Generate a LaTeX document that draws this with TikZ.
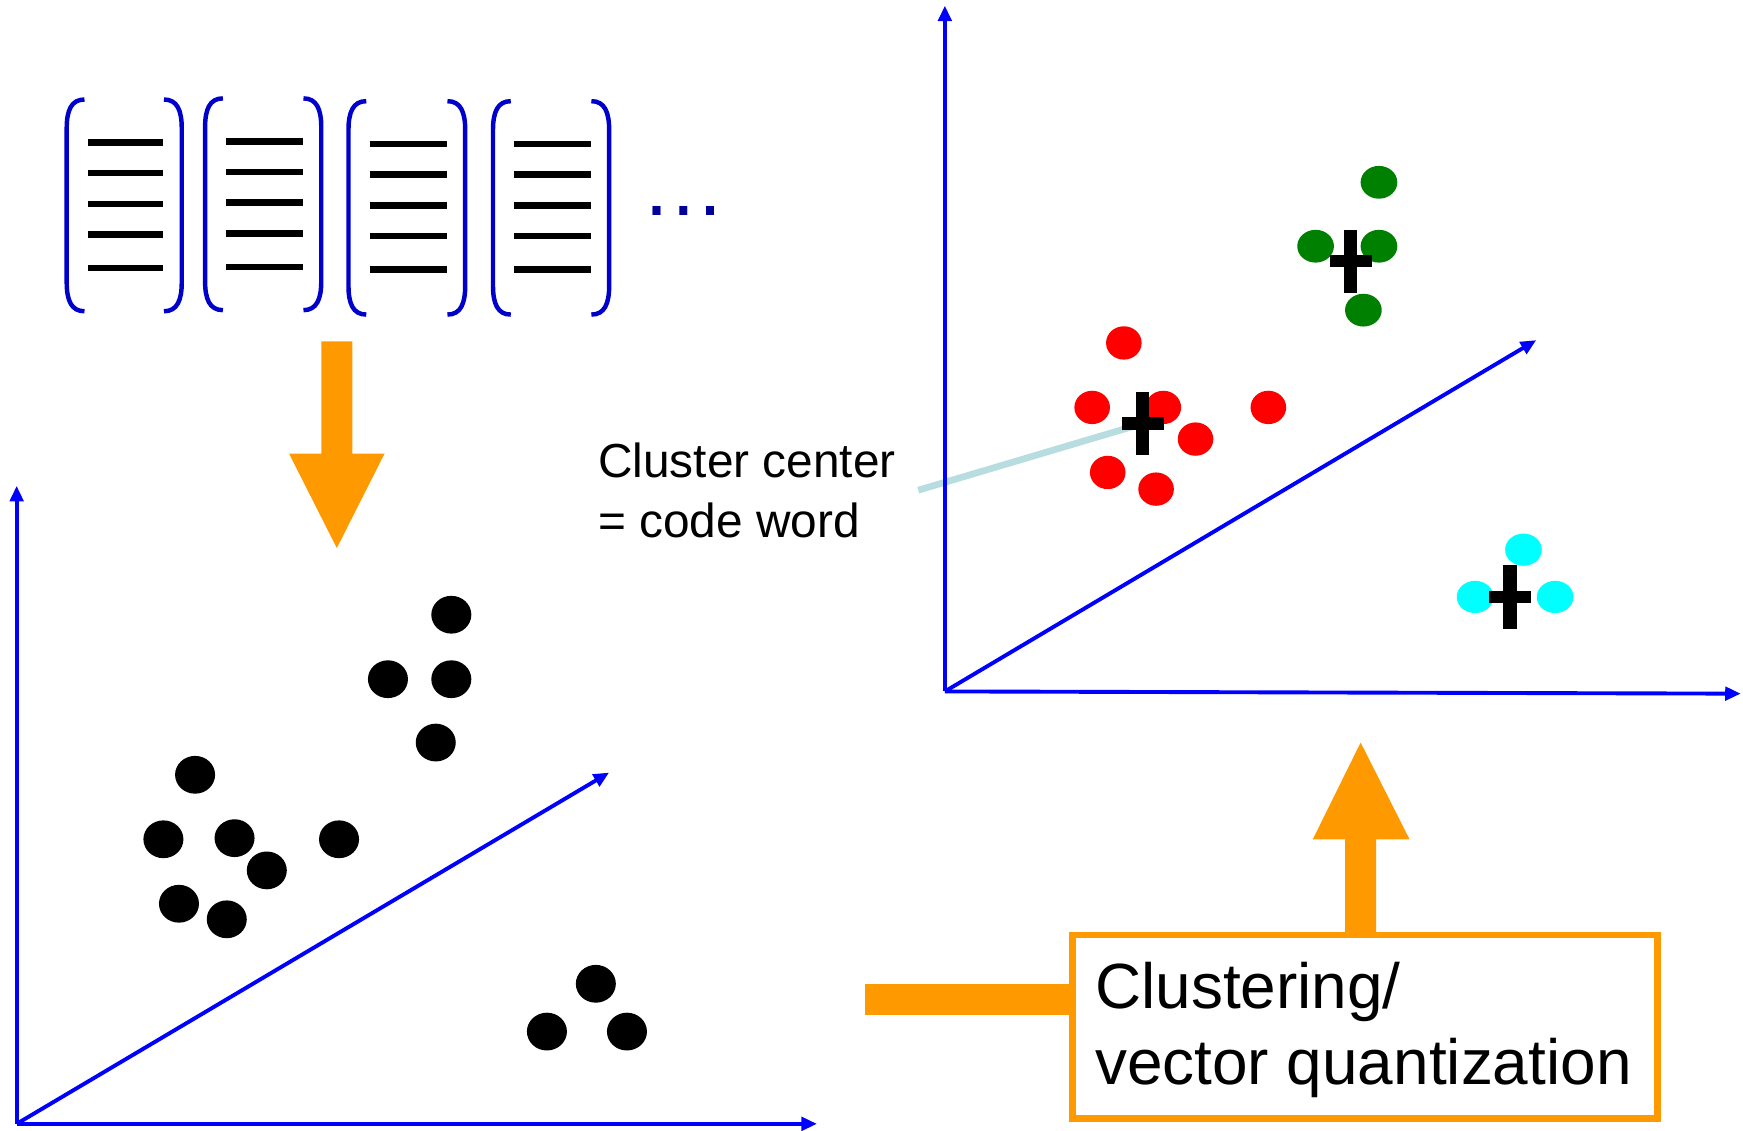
\documentclass[tikz,border=0pt]{standalone}
\usepackage{fontspec}
\setmainfont{Liberation Sans}
\usetikzlibrary{arrows.meta,shapes.geometric}
\definecolor{axblue}{RGB}{0,0,255}
\definecolor{brkblue}{RGB}{0,0,204}
\definecolor{navyc}{RGB}{0,0,153}
\definecolor{orng}{RGB}{255,153,0}
\definecolor{ccl}{RGB}{183,221,224}
\definecolor{dgreen}{RGB}{0,128,0}
\definecolor{cyanc}{RGB}{0,255,255}
\definecolor{redc}{RGB}{255,0,0}
\newcommand\docpage[4]{%
  \draw[brk] ({#1+16},#3) .. controls ({#1+4},#3) and (#1,{#3+10}) .. (#1,{#3+26}) -- (#1,{#4-26}) .. controls (#1,{#4-10}) and ({#1+4},#4) .. ({#1+16},#4);
  \draw[brk] ({#2-16},#3) .. controls ({#2-4},#3) and (#2,{#3+10}) .. (#2,{#3+26}) -- (#2,{#4-26}) .. controls (#2,{#4-10}) and ({#2-4},#4) .. ({#2-16},#4);
  \foreach \dy in {38.5,66.2,93.9,121.4,151.6}
    \draw[docline] ({#1+19},{#3+\dy}) -- ({#2-16.5},{#3+\dy});
}
\begin{document}
\begin{tikzpicture}[x=1pt,y=-1pt,
  axis/.style={draw=axblue,line width=3.5pt,-{Triangle[length=14pt,width=12pt]}},
  brk/.style={draw=brkblue,line width=4pt},
  docline/.style={draw=black,line width=6pt},
  bdot/.style={ellipse,fill=black,inner sep=0pt,minimum width=36pt,minimum height=34pt},
  rdot/.style={ellipse,fill=redc,inner sep=0pt,minimum width=32pt,minimum height=30pt},
  gdot/.style={ellipse,fill=dgreen,inner sep=0pt,minimum width=33pt,minimum height=29.5pt},
  cdot/.style={ellipse,fill=cyanc,inner sep=0pt,minimum width=33pt,minimum height=29pt},
  orngfill/.style={fill=orng},
  cctext/.style={inner sep=0pt,anchor=base west,font=\fontsize{43pt}{53pt}\selectfont},
  qtext/.style={inner sep=0pt,anchor=base west,font=\fontsize{57.5pt}{69pt}\selectfont},
  qboxst/.style={draw=orng,line width=6pt,fill=white,minimum width=526pt,minimum height=165pt,inner sep=0pt},
  ccline/.style={draw=ccl,line width=6pt},
  codecross/.pic={\fill[black] (-6,-28.5) rectangle (6,28.5); \fill[black] (-19,-5.5) rectangle (19,5.5);}
]
\useasboundingbox (0,0) rectangle (1568,1017);
\fill[white] (0,0) rectangle (1568,1017);

% documents
\docpage{60}{163.5}{89.5}{280}
\docpage{184.5}{289}{88.5}{279}
\docpage{313.5}{418.5}{91}{283}
\docpage{443.5}{548}{91}{283}
\node[inner sep=0pt,anchor=base west,text=navyc,font=\fontsize{76pt}{80pt}\selectfont] (ell) at (577,194) {…};

% down arrow
\fill[orngfill] (289,307) -- (317,307) -- (317,408) -- (346,408) -- (303,493) -- (260,408) -- (289,408) -- cycle;

% left axes
\coordinate (lo) at (15,1011);
\coordinate (ly) at (15,437);
\coordinate (lx) at (735,1011);
\coordinate (lz) at (548,695);
\draw[axis] (lo) -- (ly);
\draw[axis] (lo) -- (lx);
\draw[axis] (lo) -- (lz);

% black dots
\node[bdot] (b1) at (406,553) {};
\node[bdot] (b2) at (349,611) {};
\node[bdot] (b3) at (406,611) {};
\node[bdot] (b4) at (392,668) {};
\node[bdot] (b5) at (175.5,697) {};
\node[bdot] (b6) at (147,755) {};
\node[bdot] (b7) at (211,754) {};
\node[bdot] (b8) at (240,783) {};
\node[bdot] (b9) at (305,755) {};
\node[bdot] (b10) at (161,813) {};
\node[bdot] (b11) at (204,827) {};
\node[bdot] (b12) at (536,885) {};
\node[bdot] (b13) at (492,928) {};
\node[bdot] (b14) at (564,928) {};

% right axes
\coordinate (ro) at (850,622);
\coordinate (ry) at (850,5);
\coordinate (rx) at (1566,624);
\coordinate (rz) at (1382,306);

% label and connector
\node[cctext] (cc1) at (538,430) {Cluster center};
\node[cctext] (cc2) at (538,483.5) {= code word};
\coordinate (ccend) at (826,441);
\coordinate (rc) at (1028,381);
\coordinate (gc) at (1215,235);
\coordinate (cc) at (1358.5,537);
\draw[ccline] (ccend) -- (rc);

\draw[axis] (ro) -- (ry);
\draw[axis] (ro) -- (rx);
\draw[axis] (ro) -- (rz);

% red cluster
\node[rdot] (r1) at (1011,308.5) {};
\node[rdot] (r2) at (982.5,366.5) {};
\node[rdot] (r3) at (1046.5,366.5) {};
\node[rdot] (r4) at (1075.5,395) {};
\node[rdot] (r5) at (996.5,425) {};
\node[rdot] (r6) at (1040,440) {};
\node[rdot] (r7) at (1141,366.5) {};
\pic at (rc) {codecross};

% green cluster
\node[gdot] (g1) at (1240.5,164) {};
\node[gdot] (g2) at (1183.5,221.5) {};
\node[gdot] (g3) at (1240.5,221.5) {};
\node[gdot] (g4) at (1226.5,279) {};
\pic at (gc) {codecross};

% cyan cluster
\node[cdot] (c1) at (1370.5,494.5) {};
\node[cdot] (c2) at (1327,537) {};
\node[cdot] (c3) at (1399,537) {};
\pic at (cc) {codecross};

% clustering box and arrows
\fill[orngfill] (778,885) rectangle (965,913);
\node[qboxst] (qbox) at (1228,923.5) {};
\node[qtext] (q1) at (985,907) {Clustering/};
\node[qtext] (q2) at (985,976) {vector quantization};
\fill[orngfill] (1210,841) -- (1210,755) -- (1181,755) -- (1224,668) -- (1268,755) -- (1238,755) -- (1238,841) -- cycle;
\end{tikzpicture}
\end{document}
